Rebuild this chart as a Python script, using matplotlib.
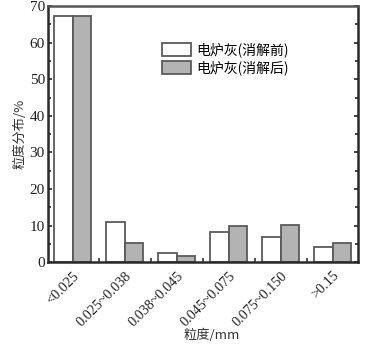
import matplotlib
matplotlib.use("Agg")
import matplotlib.pyplot as plt
import numpy as np
from matplotlib.ticker import MultipleLocator, FixedLocator

categories = ["<0.025", "0.025~0.038", "0.038~0.045", "0.045~0.075", "0.075~0.150", ">0.15"]
before = [67.4, 10.9, 2.5, 8.2, 6.8, 4.3]
after = [67.4, 5.3, 1.8, 9.9, 10.1, 5.3]
legend_labels = ["电炉灰(消解前)", "电炉灰(消解后)"]
xlabel = "粒度/mm"
ylabel = "粒度分布/%"

cjk = ["Noto Sans CJK SC", "DejaVu Sans"]
serif = ["Liberation Serif", "DejaVu Serif"]

fig = plt.figure(figsize=(3.74, 3.44), dpi=100)
ax = fig.add_axes([0.1275, 0.2375, 0.8295, 0.7451])

x = np.arange(len(categories))
w = 0.355
edge = "#5a5a5a"
ax.bar(x - w / 2, before, w, color="white", edgecolor=edge, linewidth=1.3, label=legend_labels[0])
ax.bar(x + w / 2, after, w, color="#b3b3b3", edgecolor=edge, linewidth=1.3, label=legend_labels[1])

ax.set_xlim(-0.483, len(categories) - 1 + 0.483)
ax.set_ylim(0, 70)

ax.yaxis.set_major_locator(MultipleLocator(10))
ax.yaxis.set_minor_locator(MultipleLocator(5))
ax.tick_params(axis="y", which="both", direction="in", left=True, right=True,
               labelsize=11, colors="#222222", width=1.2, pad=2)
ax.tick_params(axis="y", which="major", length=3)
ax.tick_params(axis="y", which="minor", length=2)
for lab in ax.get_yticklabels():
    lab.set_fontfamily(serif)

ax.set_xticks(x)
ax.set_xticklabels(categories, rotation=45, ha="right", rotation_mode="anchor",
                   fontfamily=serif, fontsize=10.3, color="#222222")
ax.xaxis.set_minor_locator(FixedLocator(x[:-1] + 0.5))
ax.tick_params(axis="x", which="major", length=0, pad=5)
ax.tick_params(axis="x", which="minor", direction="in", length=3, width=1.2, color="#333333")

for side in ["left", "bottom", "right"]:
    ax.spines[side].set_linewidth(1.8)
    ax.spines[side].set_color("#2a2a2a")
ax.spines["top"].set_linewidth(1.8)
ax.spines["top"].set_color("#555555")

fig.text(0.567, 0.026, xlabel, fontfamily=cjk, fontsize=9.5, color="#333333",
         ha="center", va="center")
ax.set_ylabel(ylabel, fontfamily=cjk, fontsize=9.5, color="#333333", labelpad=2)

leg = ax.legend(loc="upper left", bbox_to_anchor=(0.347, 0.885), frameon=False,
                prop={"family": cjk, "size": 10}, handlelength=2.1, handleheight=1.1,
                handletextpad=0.35, labelspacing=0.2, borderpad=0)

fig.savefig("out.png", dpi=100, facecolor="white")
